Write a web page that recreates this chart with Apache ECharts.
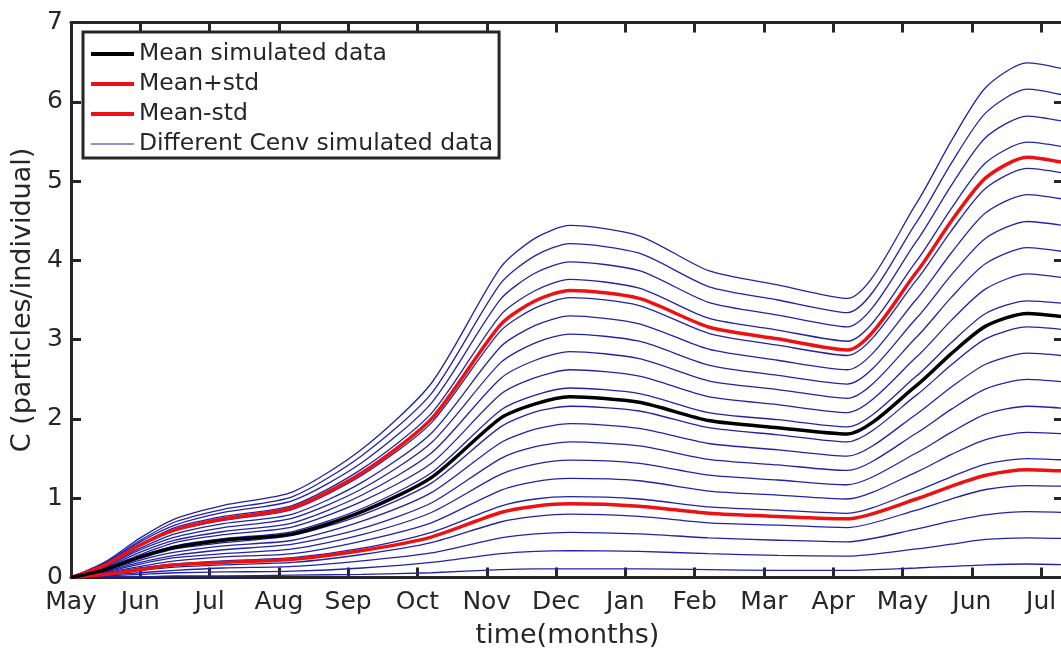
<!DOCTYPE html>
<html>
<head>
<meta charset="utf-8">
<script src="https://cdn.jsdelivr.net/npm/echarts@6/dist/echarts.min.js"></script>
<style>
  html, body { margin: 0; padding: 0; background: #fff; }
  #chart { width: 1061px; height: 650px; }
</style>
</head>
<body>
<div id="chart"></div>
<script>
// time in months counted from the first May
const months = [0, 0.5, 1.0, 1.5, 2.2, 3.2, 4.2, 5.2, 6.2, 6.7, 7.2, 8.2, 9.2, 10.2, 11.2, 12.2, 12.7, 13.2, 13.8, 14.4];
const monthLabels = ['May', 'Jun', 'Jul', 'Aug', 'Sep', 'Oct', 'Nov', 'Dec', 'Jan', 'Feb', 'Mar', 'Apr', 'May', 'Jun', 'Jul'];
const yTicks = [0, 1, 2, 3, 4, 5, 6, 7];

// one curve per Cenv value, lowest to highest
const cenv1  = [0, 0.01, 0.01, 0.02, 0.02, 0.03, 0.04, 0.06, 0.10, 0.11, 0.11, 0.11, 0.10, 0.09, 0.09, 0.12, 0.14, 0.16, 0.17, 0.16];
const cenv2  = [0, 0.02, 0.04, 0.06, 0.07, 0.08, 0.12, 0.19, 0.30, 0.33, 0.34, 0.33, 0.30, 0.28, 0.27, 0.36, 0.42, 0.48, 0.50, 0.49];
const cenv3  = [0, 0.03, 0.06, 0.09, 0.12, 0.14, 0.21, 0.31, 0.50, 0.55, 0.57, 0.55, 0.50, 0.47, 0.45, 0.61, 0.71, 0.79, 0.83, 0.82];
const cenv4  = [0, 0.04, 0.09, 0.13, 0.16, 0.19, 0.29, 0.44, 0.70, 0.77, 0.80, 0.77, 0.69, 0.66, 0.63, 0.85, 0.99, 1.11, 1.16, 1.15];
const cenv5  = [0, 0.05, 0.12, 0.17, 0.21, 0.25, 0.37, 0.57, 0.90, 0.99, 1.02, 0.99, 0.89, 0.85, 0.81, 1.09, 1.27, 1.43, 1.50, 1.48];
const cenv6  = [0, 0.06, 0.14, 0.21, 0.26, 0.30, 0.46, 0.69, 1.10, 1.21, 1.25, 1.22, 1.09, 1.04, 0.99, 1.33, 1.55, 1.74, 1.83, 1.81];
const cenv7  = [0, 0.07, 0.17, 0.25, 0.30, 0.36, 0.54, 0.82, 1.30, 1.43, 1.48, 1.44, 1.29, 1.23, 1.17, 1.57, 1.83, 2.06, 2.16, 2.13];
const cenv8  = [0, 0.08, 0.19, 0.28, 0.35, 0.42, 0.62, 0.94, 1.50, 1.65, 1.71, 1.66, 1.49, 1.42, 1.35, 1.82, 2.12, 2.38, 2.50, 2.46];
const cenv9  = [0, 0.09, 0.22, 0.32, 0.40, 0.47, 0.71, 1.07, 1.70, 1.87, 1.94, 1.88, 1.69, 1.61, 1.53, 2.06, 2.40, 2.69, 2.83, 2.79];
const cenv10 = [0, 0.10, 0.24, 0.36, 0.44, 0.53, 0.79, 1.19, 1.90, 2.09, 2.16, 2.10, 1.89, 1.80, 1.71, 2.30, 2.68, 3.01, 3.16, 3.12];
const cenv11 = [0, 0.11, 0.27, 0.40, 0.49, 0.58, 0.87, 1.32, 2.11, 2.30, 2.39, 2.32, 2.08, 1.99, 1.90, 2.54, 2.96, 3.33, 3.49, 3.45];
const cenv12 = [0, 0.12, 0.29, 0.44, 0.54, 0.64, 0.96, 1.44, 2.31, 2.52, 2.62, 2.54, 2.28, 2.18, 2.08, 2.78, 3.24, 3.64, 3.83, 3.77];
const cenv13 = [0, 0.13, 0.32, 0.47, 0.58, 0.69, 1.04, 1.57, 2.51, 2.74, 2.85, 2.76, 2.48, 2.37, 2.26, 3.03, 3.53, 3.96, 4.16, 4.10];
const cenv14 = [0, 0.14, 0.35, 0.51, 0.63, 0.75, 1.12, 1.70, 2.71, 2.96, 3.07, 2.98, 2.68, 2.55, 2.44, 3.27, 3.81, 4.28, 4.49, 4.43];
const cenv15 = [0, 0.15, 0.37, 0.55, 0.68, 0.80, 1.20, 1.82, 2.91, 3.18, 3.30, 3.20, 2.88, 2.74, 2.62, 3.51, 4.09, 4.60, 4.83, 4.76];
const cenv16 = [0, 0.16, 0.40, 0.59, 0.72, 0.86, 1.29, 1.95, 3.11, 3.40, 3.53, 3.43, 3.08, 2.93, 2.80, 3.75, 4.37, 4.91, 5.16, 5.09];
const cenv17 = [0, 0.17, 0.42, 0.63, 0.77, 0.91, 1.37, 2.07, 3.31, 3.62, 3.76, 3.65, 3.27, 3.12, 2.98, 3.99, 4.65, 5.23, 5.49, 5.42];
const cenv18 = [0, 0.18, 0.45, 0.66, 0.82, 0.97, 1.45, 2.20, 3.51, 3.84, 3.98, 3.87, 3.47, 3.31, 3.16, 4.24, 4.94, 5.55, 5.82, 5.74];
const cenv19 = [0, 0.19, 0.47, 0.70, 0.86, 1.02, 1.54, 2.32, 3.71, 4.06, 4.21, 4.09, 3.67, 3.50, 3.34, 4.48, 5.22, 5.86, 6.16, 6.07];
const cenv20 = [0, 0.20, 0.50, 0.74, 0.91, 1.08, 1.62, 2.45, 3.91, 4.28, 4.44, 4.31, 3.87, 3.69, 3.52, 4.72, 5.50, 6.18, 6.49, 6.40];

const meanSim   = [0, 0.10, 0.26, 0.38, 0.47, 0.55, 0.83, 1.26, 2.01, 2.19, 2.28, 2.21, 1.98, 1.89, 1.81, 2.42, 2.82, 3.17, 3.33, 3.28];
const meanPlus  = [0, 0.16, 0.41, 0.60, 0.74, 0.88, 1.32, 2.00, 3.19, 3.49, 3.62, 3.52, 3.16, 3.01, 2.87, 3.85, 4.49, 5.04, 5.30, 5.22];
const meanMinus = [0, 0.04, 0.10, 0.16, 0.19, 0.23, 0.34, 0.51, 0.82, 0.90, 0.93, 0.90, 0.81, 0.77, 0.74, 0.99, 1.15, 1.29, 1.36, 1.34];

const cenvCurves = [cenv1, cenv2, cenv3, cenv4, cenv5, cenv6, cenv7, cenv8, cenv9, cenv10,
                    cenv11, cenv12, cenv13, cenv14, cenv15, cenv16, cenv17, cenv18, cenv19, cenv20];

const pairs = vals => months.map((m, i) => [m, vals[i]]);
const monthTicks = monthLabels.map((_, i) => i);

const axisColor = '#262626';
const font = 'DejaVu Sans';
const blue = '#2222a8';
const red = '#ee1111';

const chart = echarts.init(document.getElementById('chart'));

const series = cenvCurves.map(c => ({
    name: 'Different Cenv simulated data',
    type: 'line',
    data: pairs(c),
    symbol: 'none',
    smooth: 0.25,
    lineStyle: { color: blue, width: 1.3 },
    itemStyle: { color: blue },
    z: 2
}));
series.push(
    {
        name: 'Mean+std', type: 'line', data: pairs(meanPlus), symbol: 'none', smooth: 0.25,
        lineStyle: { color: red, width: 3.5 }, itemStyle: { color: red }, z: 3
    },
    {
        name: 'Mean-std', type: 'line', data: pairs(meanMinus), symbol: 'none', smooth: 0.25,
        lineStyle: { color: red, width: 3.5 }, itemStyle: { color: red }, z: 3
    },
    {
        name: 'Mean simulated data', type: 'line', data: pairs(meanSim), symbol: 'none', smooth: 0.25,
        lineStyle: { color: '#000', width: 3.5 }, itemStyle: { color: '#000' }, z: 4
    }
);

// box axes: all four sides, ticks pointing inward
const tickStyle = { show: true, inside: true, length: 10, lineStyle: { color: axisColor, width: 3 } };
const xTickStyle = Object.assign({ customValues: monthTicks }, tickStyle);
const lineStyle = { show: true, onZero: false, lineStyle: { color: axisColor, width: 3 } };

const option = {
    animation: false,
    backgroundColor: '#fff',
    grid: { left: 71, top: 22.5, width: 993, height: 555, outerBoundsMode: 'none', containLabel: false },
    legend: {
        orient: 'vertical',
        left: 83,
        top: 32,
        data: [
            { name: 'Mean simulated data', lineStyle: { width: 4 } },
            { name: 'Mean+std', lineStyle: { width: 4 } },
            { name: 'Mean-std', lineStyle: { width: 4 } },
            { name: 'Different Cenv simulated data', lineStyle: { width: 1.2 } }
        ],
        backgroundColor: '#fff',
        borderColor: axisColor,
        borderWidth: 3,
        borderRadius: 0,
        padding: [10, 6, 2, 6],
        itemGap: 6,
        itemWidth: 43,
        itemHeight: 14,
        itemStyle: { opacity: 0 },
        textStyle: { fontFamily: font, fontSize: 23.5, color: axisColor, lineHeight: 24 },
        selectedMode: false
    },
    xAxis: [
        {
            type: 'value', min: 0, max: 14.33, interval: 1,
            name: 'time(months)', nameLocation: 'middle', nameGap: 45,
            nameTextStyle: { fontFamily: font, fontSize: 27, color: axisColor },
            axisLine: lineStyle, axisTick: xTickStyle,
            axisLabel: {
                fontFamily: font, fontSize: 25, color: axisColor, margin: 12,
                customValues: monthTicks,
                formatter: v => monthLabels[v] || ''
            },
            splitLine: { show: false }
        },
        {
            type: 'value', position: 'top', min: 0, max: 14.33, interval: 1,
            axisLine: lineStyle, axisTick: xTickStyle,
            axisLabel: { show: false }, splitLine: { show: false }
        }
    ],
    yAxis: [
        {
            type: 'value', min: yTicks[0], max: yTicks[yTicks.length - 1], interval: 1,
            name: 'C (particles/individual)', nameLocation: 'middle', nameGap: 29,
            nameTextStyle: { fontFamily: font, fontSize: 27, color: axisColor },
            axisLine: lineStyle, axisTick: tickStyle,
            axisLabel: { fontFamily: font, fontSize: 25, color: axisColor, margin: 8 },
            splitLine: { show: false }
        },
        {
            type: 'value', position: 'right', min: yTicks[0], max: yTicks[yTicks.length - 1], interval: 1,
            axisLine: lineStyle, axisTick: tickStyle,
            axisLabel: { show: false }, splitLine: { show: false }
        }
    ],
    series: series
};

chart.setOption(option);
</script>
</body>
</html>
